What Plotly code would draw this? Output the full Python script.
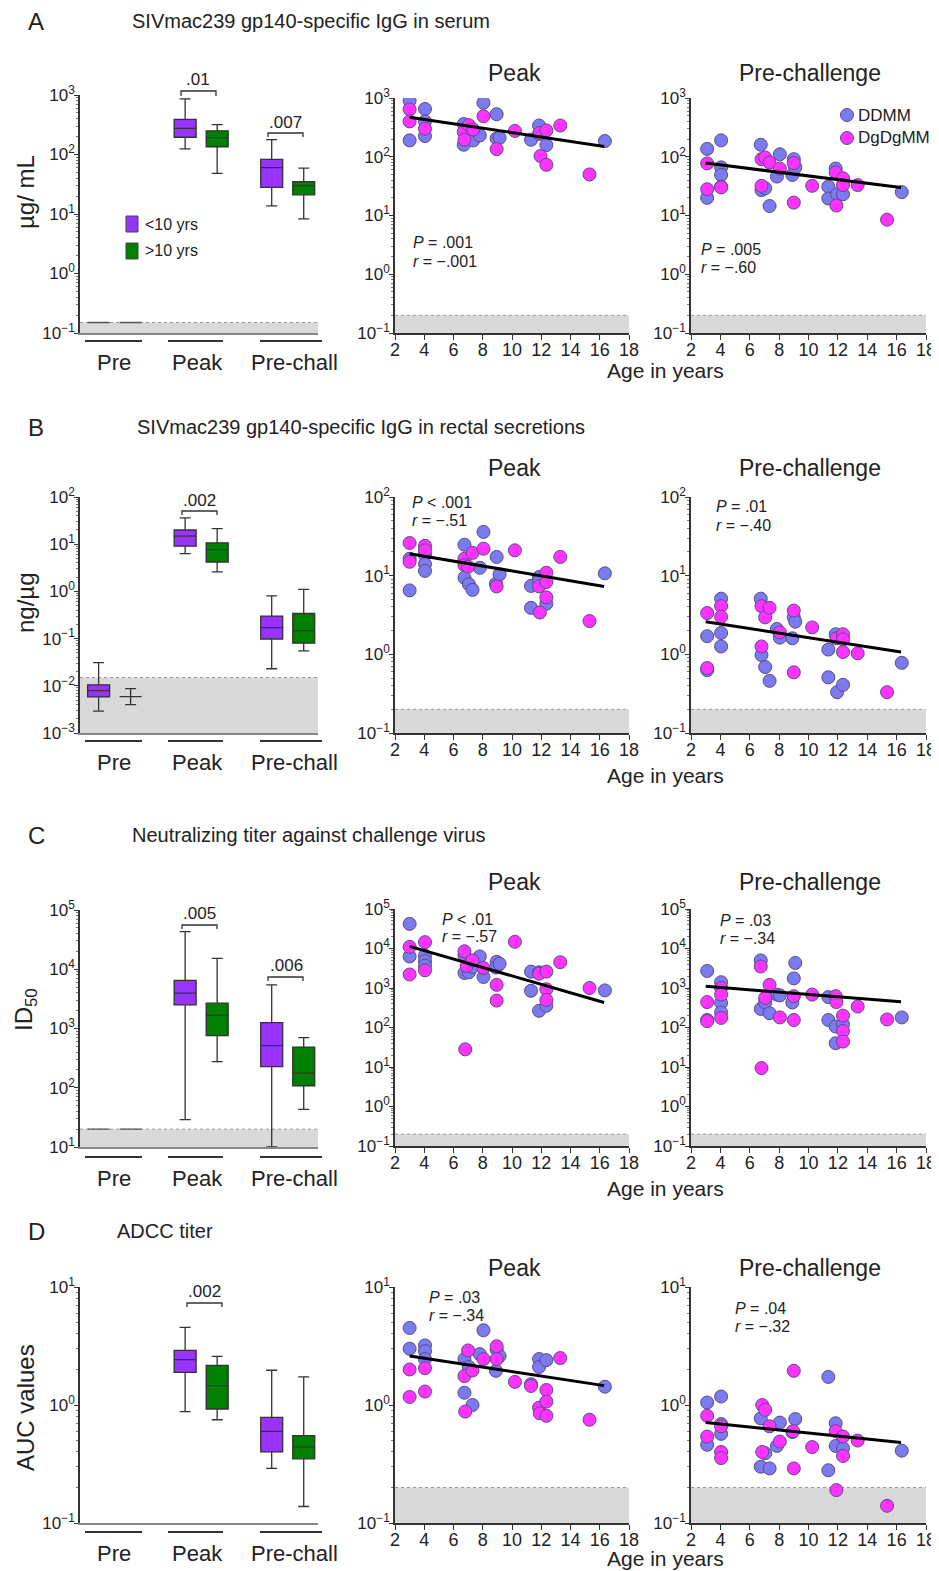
import plotly.graph_objects as go

# the page has an 8px body margin; the figure fills the rest of the 939x1571 window
PAGE_OFF = 8
FW, FH = 931, 1563
FONT = "Liberation Sans, Arial, Helvetica, sans-serif"
INK = "#222222"

# ------------------------------------------------------------------ data
categories = ["Pre", "Peak", "Pre-chall"]
age_groups = ["&lt;10 yrs", "&gt;10 yrs"]
strains = ["DDMM", "DgDgMM"]
age_ticks = [2, 4, 6, 8, 10, 12, 14, 16, 18]
fit_age = [3, 16.3]

# box summaries per category: [lower whisker, q1, median, q3, upper whisker]
A_box_lt10 = [[0.15, 0.15, 0.15, 0.15, 0.15], [124, 195, 275, 390, 860], [13.7, 28, 60, 83, 178]]
A_box_gt10 = [[0.15, 0.15, 0.15, 0.15, 0.15], [48, 135, 192, 250, 318], [8.3, 21, 30, 35, 59]]
B_box_lt10 = [[0.0029, 0.0058, 0.0079, 0.0105, 0.031], [6.3, 9.1, 14.9, 20, 36], [0.023, 0.098, 0.17, 0.30, 0.80]]
B_box_gt10 = [[0.0040, 0.0059, 0.0059, 0.0059, 0.0087], [2.6, 4.2, 7.7, 10.7, 21.4], [0.055, 0.080, 0.148, 0.34, 1.1]]
C_box_lt10 = [[20, 20, 20, 20, 20], [29, 2500, 3950, 6500, 43000], [10, 228, 515, 1260, 5450]]
C_box_gt10 = [[20, 20, 20, 20, 20], [277, 760, 1670, 2680, 15300], [43, 108, 177, 485, 700]]
D_box_lt10 = [None, [0.88, 1.89, 2.42, 2.9, 4.55], [0.29, 0.40, 0.598, 0.785, 1.97]]
D_box_gt10 = [None, [0.75, 0.925, 1.46, 2.17, 2.58], [0.138, 0.35, 0.44, 0.55, 1.73]]

# significance labels for [Peak, Pre-chall]
A_sig = [".01", ".007"]
B_sig = [".002", None]
C_sig = [".005", ".006"]
D_sig = [".002", None]

# scatter data: age (years) and values
A_peak_ddmm_age = [3, 3, 4.05, 4.05, 4.05, 6.7, 6.7, 7.05, 7.35, 7.8, 8.05, 8.95, 8.95, 9.15, 11.3, 11.85, 11.85, 12.35, 16.35]
A_peak_ddmm_val = [900, 190, 650, 400, 225, 360, 160, 275, 190, 230, 830, 530, 205, 210, 195, 340, 245, 158, 185]
A_peak_dg_age = [3, 3, 4.05, 6.7, 6.75, 7.05, 7.35, 8.05, 8.95, 10.2, 11.9, 11.95, 12.35, 12.35, 13.3, 15.3]
A_peak_dg_val = [640, 400, 300, 265, 195, 345, 290, 490, 135, 275, 255, 103, 280, 73, 340, 50]
A_peak_fit = [470, 150]

A_pre_ddmm_age = [3.1, 3.1, 4.05, 4.05, 4.05, 6.75, 6.8, 7.05, 7.35, 7.85, 8.05, 9.0, 8.9, 9.1, 11.35, 11.35, 11.85, 11.95, 12.35, 16.35]
A_pre_ddmm_val = [136, 20, 190, 66, 49, 160, 27, 29, 14.5, 46, 110, 91, 49, 66, 31, 19.5, 63, 23, 23, 25]
A_pre_dg_age = [3.1, 3.1, 4.05, 4.05, 6.8, 6.8, 7.05, 7.35, 8.05, 9.0, 9.0, 10.25, 11.85, 11.9, 12.35, 12.35, 13.35, 15.35]
A_pre_dg_val = [77, 28, 31, 30, 91, 32, 97, 80, 63, 78, 16.6, 32, 54, 14.8, 43, 33, 33, 8.5]
A_pre_fit = [78, 30]

B_peak_ddmm_age = [3, 3, 4.05, 4.05, 4.05, 6.75, 6.75, 7.05, 7.3, 7.8, 8.05, 8.95, 8.9, 9.15, 11.3, 11.3, 11.85, 11.85, 12.35, 16.35]
B_peak_ddmm_val = [16.4, 6.5, 18.3, 14, 11.5, 24.7, 9.4, 7.8, 6.6, 12.6, 36, 17.3, 7.9, 10.4, 7.4, 3.9, 9.6, 8.6, 4.4, 10.7]
B_peak_dg_age = [3, 3, 4.05, 4.05, 6.75, 6.75, 7.0, 7.3, 8.05, 8.95, 10.2, 11.85, 11.9, 12.35, 12.35, 12.35, 13.3, 15.3]
B_peak_dg_val = [26, 15, 24, 21, 16.4, 13.6, 13, 19.5, 22, 7.3, 21, 7.3, 3.4, 10.9, 8.3, 5.3, 17.3, 2.65]
B_peak_fit = [19, 7.3]

B_pre_ddmm_age = [3.1, 3.1, 4.05, 4.05, 4.05, 6.75, 6.8, 7.05, 7.35, 7.85, 8.05, 9.0, 9.1, 8.9, 11.35, 11.35, 11.85, 11.95, 12.35, 16.35]
B_pre_ddmm_val = [1.7, 0.63, 5.1, 1.87, 1.26, 5.1, 0.98, 0.69, 0.46, 2.1, 1.63, 2.95, 2.6, 1.6, 1.15, 0.51, 1.8, 0.33, 0.41, 0.78]
B_pre_dg_age = [3.1, 3.1, 4.05, 4.05, 6.8, 6.8, 7.05, 7.35, 8.05, 9.0, 9.0, 10.25, 11.9, 12.35, 12.35, 12.35, 13.35, 15.35]
B_pre_dg_val = [3.35, 0.67, 4.1, 3.0, 4.1, 1.26, 2.95, 3.9, 1.9, 3.6, 0.59, 2.2, 1.6, 1.8, 1.55, 1.07, 1.03, 0.33]
B_pre_fit = [2.6, 1.07]

C_peak_ddmm_age = [3, 3, 4.05, 4.05, 4.05, 6.75, 6.75, 7.05, 7.3, 7.8, 8.05, 8.95, 8.9, 9.15, 11.3, 11.3, 11.85, 11.85, 12.35, 16.35]
C_peak_ddmm_val = [42000, 6300, 6600, 4800, 3700, 6700, 2400, 2500, 3400, 6300, 1900, 4600, 3300, 4100, 2600, 850, 2500, 265, 355, 870]
C_peak_dg_age = [3, 3, 4.05, 4.05, 6.75, 6.8, 6.9, 7.3, 8.05, 8.95, 8.95, 10.2, 11.85, 12.35, 12.35, 12.35, 13.3, 15.3]
C_peak_dg_val = [11000, 2200, 14500, 2800, 8500, 28, 3600, 5000, 3200, 1200, 480, 14800, 2300, 2600, 930, 500, 4500, 1000]
C_peak_fit = [11300, 430]

C_pre_ddmm_age = [3.1, 3.1, 4.05, 4.05, 4.05, 6.75, 6.75, 7.05, 7.35, 7.85, 8.05, 9.0, 8.9, 9.1, 11.35, 11.35, 11.85, 11.85, 12.35, 16.35]
C_pre_ddmm_val = [2700, 155, 1400, 420, 240, 5000, 295, 430, 230, 680, 650, 1750, 430, 4300, 590, 155, 106, 40, 120, 180]
C_pre_dg_age = [3.1, 3.1, 4.05, 4.05, 4.05, 6.75, 6.8, 7.05, 7.35, 8.05, 9.0, 9.0, 10.25, 11.85, 11.9, 12.35, 12.35, 12.35, 13.35, 15.35]
C_pre_dg_val = [440, 145, 1000, 680, 175, 3500, 9.4, 560, 1200, 180, 620, 155, 680, 620, 440, 200, 81, 44, 340, 160]
C_pre_fit = [1100, 450]

D_peak_ddmm_age = [3, 3, 4.05, 4.05, 4.05, 6.75, 6.75, 7.05, 7.3, 7.8, 8.05, 8.95, 8.9, 9.15, 11.3, 11.85, 11.85, 12.35, 16.35]
D_peak_ddmm_val = [4.5, 3.0, 3.2, 2.86, 2.45, 2.45, 1.27, 2.1, 1.0, 2.7, 4.3, 2.95, 1.95, 2.6, 1.5, 2.45, 2.1, 2.4, 1.43]
D_peak_dg_age = [3, 3, 4.05, 4.05, 6.75, 6.8, 7.0, 7.3, 8.05, 8.95, 8.95, 10.2, 11.3, 11.85, 11.9, 12.35, 12.35, 12.35, 13.3, 15.3]
D_peak_dg_val = [2.0, 1.17, 2.05, 1.3, 1.76, 0.88, 2.9, 1.96, 2.45, 3.15, 2.45, 1.57, 1.45, 0.95, 0.85, 1.34, 1.07, 0.81, 2.5, 0.75]
D_peak_fit = [2.6, 1.46]

D_pre_ddmm_age = [3.1, 3.1, 4.05, 4.05, 4.05, 6.75, 6.75, 7.05, 7.35, 7.85, 8.05, 9.1, 8.9, 11.35, 11.35, 11.85, 11.85, 12.35, 16.35]
D_pre_ddmm_val = [1.05, 0.46, 1.18, 0.69, 0.57, 0.77, 0.30, 0.39, 0.29, 0.45, 0.71, 0.76, 0.59, 1.73, 0.28, 0.70, 0.45, 0.43, 0.41]
D_pre_dg_age = [3.1, 3.1, 4.05, 4.05, 4.05, 6.85, 6.85, 7.05, 7.35, 8.05, 9.0, 9.0, 8.95, 10.25, 11.85, 11.9, 12.35, 12.35, 13.35, 15.35]
D_pre_dg_val = [0.81, 0.54, 0.66, 0.40, 0.355, 1.0, 0.40, 0.91, 0.66, 0.49, 1.95, 0.29, 0.6, 0.44, 0.6, 0.19, 0.54, 0.37, 0.50, 0.14]
D_pre_fit = [0.71, 0.48]

# statistics text
A_stats = [("P", "= .001", "−.001"), ("P", "= .005", "−.60")]
B_stats = [("P", "&lt; .001", "−.51"), ("P", "= .01", "−.40")]
C_stats = [("P", "&lt; .01", "−.57"), ("P", "= .03", "−.34")]
D_stats = [("P", "= .03", "−.34"), ("P", "= .04", "−.32")]

# ------------------------------------------------------------------ style
PURPLE = "#9933ff"
GREEN = "#008000"
BLUE = "#7b7bef"
MAGENTA = "#ff33ff"
BAND = "#d9d9d9"
MARKER_EDGE = "#5a4a8a"


def px_x(p):
    return (p - PAGE_OFF) / FW


def px_y(p):
    return 1 - (p - PAGE_OFF) / FH


def sup_label(e):
    s = str(e).replace("-", "−")
    return "10<sup>%s</sup>" % s


rows = [
    dict(letter="A", title="SIVmac239 gp140-specific IgG in serum", head_y=21, title_x=130,
         ytitle="µg/ mL", ytitle_y=192,
         box=(A_box_lt10, A_box_gt10), sig=A_sig, box_rng=(-1, 3), box_lod=0.15, box_tb=(95, 333),
         sc_rng=(-1, 3), sc_tb=(98, 333), sub_y=73, under_y=341, cat_y=362, age_y=370,
         peak=(A_peak_ddmm_age, A_peak_ddmm_val, A_peak_dg_age, A_peak_dg_val, A_peak_fit),
         pre=(A_pre_ddmm_age, A_pre_ddmm_val, A_pre_dg_age, A_pre_dg_val, A_pre_fit),
         stats=A_stats, stat_pos=[(411, 243), (699, 250)],
         brackets=[(181, 216, 91, 96, 198, 80), (268, 303, 133, 137, 285, 122)]),
    dict(letter="B", title="SIVmac239 gp140-specific IgG in rectal secretions", head_y=427, title_x=135,
         ytitle="ng/µg", ytitle_y=603,
         box=(B_box_lt10, B_box_gt10), sig=B_sig, box_rng=(-3, 2), box_lod=0.015, box_tb=(497, 733),
         sc_rng=(-1, 2), sc_tb=(497, 733), sub_y=468, under_y=741, cat_y=762, age_y=775,
         peak=(B_peak_ddmm_age, B_peak_ddmm_val, B_peak_dg_age, B_peak_dg_val, B_peak_fit),
         pre=(B_pre_ddmm_age, B_pre_ddmm_val, B_pre_dg_age, B_pre_dg_val, B_pre_fit),
         stats=B_stats, stat_pos=[(410, 502), (714, 507)],
         brackets=[(182, 217, 511, 515, 199, 500)]),
    dict(letter="C", title="Neutralizing titer against challenge virus", head_y=835, title_x=130,
         ytitle="ID<sub>50</sub>", ytitle_y=1010,
         box=(C_box_lt10, C_box_gt10), sig=C_sig, box_rng=(1, 5), box_lod=20, box_tb=(910, 1147),
         sc_rng=(-1, 5), sc_tb=(909, 1146), sub_y=882, under_y=1157, cat_y=1178, age_y=1188,
         peak=(C_peak_ddmm_age, C_peak_ddmm_val, C_peak_dg_age, C_peak_dg_val, C_peak_fit),
         pre=(C_pre_ddmm_age, C_pre_ddmm_val, C_pre_dg_age, C_pre_dg_val, C_pre_fit),
         stats=C_stats, stat_pos=[(440, 919), (718, 920)],
         brackets=[(182, 217, 925, 929, 199, 913), (268, 303, 977, 981, 286, 965)]),
    dict(letter="D", title="ADCC titer", head_y=1231, title_x=115,
         ytitle="AUC values", ytitle_y=1408,
         box=(D_box_lt10, D_box_gt10), sig=D_sig, box_rng=(-1, 1), box_lod=None, box_tb=(1287, 1523),
         sc_rng=(-1, 1), sc_tb=(1287, 1523), sub_y=1268, under_y=1532, cat_y=1553, age_y=1558,
         peak=(D_peak_ddmm_age, D_peak_ddmm_val, D_peak_dg_age, D_peak_dg_val, D_peak_fit),
         pre=(D_pre_ddmm_age, D_pre_ddmm_val, D_pre_dg_age, D_pre_dg_val, D_pre_fit),
         stats=D_stats, stat_pos=[(427, 1297), (733, 1308)],
         brackets=[(187, 222, 1303, 1307, 204, 1291)]),
]

COLS = [(80, 318), (395, 629), (691, 926)]
SUB_X = [None, 515, 810]
BOX_OFF = [-0.185, 0.185]
UNDER = [(85, 142), (168, 223), (260, 322)]
CAT_X = [114, 197, 294]

fig = go.Figure()
layout = dict(width=FW, height=FH, autosize=False,
              margin=dict(l=0, r=0, t=0, b=0, pad=0, autoexpand=False),
              paper_bgcolor="white", plot_bgcolor="white",
              font=dict(family=FONT, color=INK), showlegend=False, boxmode="overlay")
shapes, annos = [], []


def add_text(x, y, text, size, xanchor="center", angle=0, yanchor="middle"):
    annos.append(dict(x=px_x(x), y=px_y(y), xref="paper", yref="paper", text=text, showarrow=False,
                      xanchor=xanchor, yanchor=yanchor, textangle=angle,
                      font=dict(size=size, family=FONT, color=INK)))


def yaxis_cfg(rng, tb, anchor):
    vals = [10 ** e for e in range(rng[0], rng[1] + 1)]
    return dict(type="log", range=list(rng), domain=[px_y(tb[1]), px_y(tb[0])], anchor=anchor,
                tickmode="array", tickvals=vals, ticktext=[sup_label(e) for e in range(rng[0], rng[1] + 1)],
                ticks="outside", ticklen=4, tickwidth=1.3, tickcolor="#333", automargin=False,
                ticklabelstandoff=-4,
                showline=True, linecolor="#333", linewidth=1.5, showgrid=False, zeroline=False,
                tickfont=dict(size=17, family=FONT, color=INK),
                minor=dict(ticks="outside", ticklen=2.5, tickcolor="#777", dtick="D1", showgrid=False))


for ri, row in enumerate(rows):
    base = ri * 3
    # ---------------- box plot axis
    k = base + 1
    xa, ya = ("x%d" % k if k > 1 else "x"), ("y%d" % k if k > 1 else "y")
    layout["xaxis%d" % k] = dict(domain=[px_x(COLS[0][0]), px_x(COLS[0][1])], range=[-0.4, 2.35],
                                 anchor=ya, showticklabels=False, ticks="", showgrid=False, zeroline=False,
                                 showline=True, linecolor="#888", linewidth=1.5, automargin=False)
    layout["yaxis%d" % k] = yaxis_cfg(row["box_rng"], row["box_tb"], xa)
    if row["box_lod"] is not None:
        lo = 10 ** row["box_rng"][0]
        shapes.append(dict(type="rect", xref=xa + " domain", yref=ya, x0=0, x1=1, y0=lo, y1=row["box_lod"],
                           fillcolor=BAND, line=dict(width=0), layer="below"))
        shapes.append(dict(type="line", xref=xa + " domain", yref=ya, x0=0, x1=1, y0=row["box_lod"],
                           y1=row["box_lod"], line=dict(color="#999", width=1, dash="dot"), layer="below"))
    for gi, (stats_list, col) in enumerate(zip(row["box"], [PURPLE, GREEN])):
        for ci, s in enumerate(stats_list):
            if s is None:
                continue
            flat = s[0] == s[4]
            fig.add_trace(go.Box(x=[ci + BOX_OFF[gi]], lowerfence=[s[0]], q1=[s[1]], median=[s[2]],
                                 q3=[s[3]], upperfence=[s[4]], width=0.254, whiskerwidth=0.5,
                                 fillcolor=col, line=dict(color="#555" if flat else "#333", width=1.3),
                                 xaxis=xa, yaxis=ya, showlegend=False, hoverinfo="skip",
                                 name=age_groups[gi]))
    for (u0, u1) in UNDER:
        shapes.append(dict(type="line", xref="paper", yref="paper", x0=px_x(u0), x1=px_x(u1),
                           y0=px_y(row["under_y"]), y1=px_y(row["under_y"]), line=dict(color="#333", width=2)))
    for cx, cat in zip(CAT_X, categories):
        add_text(cx, row["cat_y"], cat, 22)
    for (bx0, bx1, by0, by1, tx, ty), lab in zip(row["brackets"], [s for s in row["sig"] if s]):
        path = "M %f,%f L %f,%f L %f,%f L %f,%f" % (px_x(bx0), px_y(by1), px_x(bx0), px_y(by0),
                                                    px_x(bx1), px_y(by0), px_x(bx1), px_y(by1))
        shapes.append(dict(type="path", xref="paper", yref="paper", path=path,
                           line=dict(color="#333", width=1.3)))
        add_text(tx, ty, lab, 17)
    add_text(25, row["ytitle_y"], row["ytitle"], 24, angle=-90)
    add_text(36, row["head_y"], row["letter"], 24)
    add_text(row["title_x"], row["head_y"], row["title"], 20, xanchor="left")

    # ---------------- scatter panels
    for j, (key, sub) in enumerate([("peak", "Peak"), ("pre", "Pre-challenge")]):
        k = base + 2 + j
        xa, ya = "x%d" % k, "y%d" % k
        cl, cr = COLS[1 + j]
        layout["xaxis%d" % k] = dict(domain=[px_x(cl), px_x(cr)], range=[2, 18], anchor=ya,
                                     tickmode="array", tickvals=age_ticks, ticks="outside", ticklen=5,
                                     tickwidth=1.3, tickcolor="#333", showline=True, linecolor="#333",
                                     linewidth=1.5, showgrid=False, zeroline=False, automargin=False,
                                     ticklabelstandoff=-5,
                                     tickfont=dict(size=18, family=FONT, color=INK))
        layout["yaxis%d" % k] = yaxis_cfg(row["sc_rng"], row["sc_tb"], xa)
        lo = 10 ** row["sc_rng"][0]
        shapes.append(dict(type="rect", xref=xa + " domain", yref=ya, x0=0, x1=1, y0=lo, y1=0.2,
                           fillcolor=BAND, line=dict(width=0), layer="below"))
        shapes.append(dict(type="line", xref=xa + " domain", yref=ya, x0=0, x1=1, y0=0.2, y1=0.2,
                           line=dict(color="#999", width=1, dash="dot"), layer="below"))
        a1, v1, a2, v2, fit = row[key]
        for name, ages, vals, col in [(strains[0], a1, v1, BLUE), (strains[1], a2, v2, MAGENTA)]:
            fig.add_trace(go.Scatter(x=ages, y=vals, mode="markers", name=name, showlegend=False,
                                     marker=dict(size=13, color=col, line=dict(color=MARKER_EDGE, width=1)),
                                     xaxis=xa, yaxis=ya, hoverinfo="skip"))
        fig.add_trace(go.Scatter(x=fit_age, y=fit, mode="lines", line=dict(color="black", width=3),
                                 xaxis=xa, yaxis=ya, showlegend=False, hoverinfo="skip"))
        add_text(SUB_X[1 + j], row["sub_y"], sub, 23)
        pl, pv, rv = row["stats"][j]
        sx, sy = row["stat_pos"][j]
        add_text(sx, sy, "<i>%s</i> %s" % (pl, pv), 16, xanchor="left")
        add_text(sx, sy + 18, "<i>r</i> = %s" % rv, 16, xanchor="left")
    add_text(665, row["age_y"], "Age in years", 21)

# age-group legend (left panel A)
for (t, b), col, lab in zip([(216, 232), (243, 259)], [PURPLE, GREEN], age_groups):
    shapes.append(dict(type="rect", xref="paper", yref="paper", x0=px_x(126), x1=px_x(138),
                       y0=px_y(b), y1=px_y(t), fillcolor=col, line=dict(color="#444", width=1)))
    add_text(143, (t + b) / 2, lab, 16, xanchor="left")

# strain legend (right panel A)
for cy, col, lab in zip([115, 138], [BLUE, MAGENTA], strains):
    shapes.append(dict(type="circle", xref="paper", yref="paper", x0=px_x(840.5), x1=px_x(853.5),
                       y0=px_y(cy + 6.5), y1=px_y(cy - 6.5), fillcolor=col,
                       line=dict(color=MARKER_EDGE, width=1)))
    add_text(856, cy, lab, 17, xanchor="left")

layout["shapes"] = shapes
layout["annotations"] = annos
fig.update_layout(**layout)

fig.write_html("out.html", config={"displayModeBar": False})
